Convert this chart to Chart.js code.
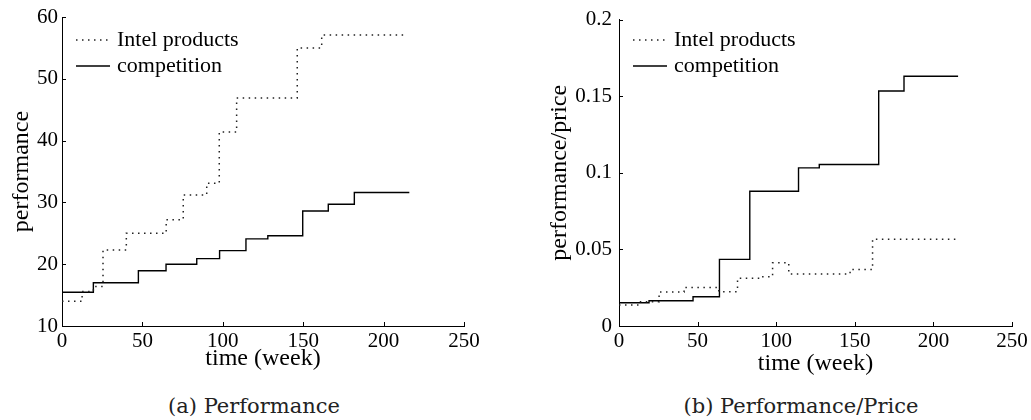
<!DOCTYPE html>
<html><head><meta charset="utf-8">
<script src="https://cdn.jsdelivr.net/npm/chart.js@4.4.1/dist/chart.umd.min.js"></script>
<style>
html,body{margin:0;padding:0;background:#fff;width:1031px;height:420px;overflow:hidden;}
.wrap{position:absolute;top:0;height:380px;}
#w1{left:0;width:515px;} #w2{left:515px;width:516px;}
canvas{display:block;}
.cap{position:absolute;top:396px;font-family:'DejaVu Serif';font-size:21px;line-height:21px;color:#222;white-space:nowrap;transform:translateX(-50%);}
</style></head><body>
<div class="wrap" id="w1"><canvas id="c1" width="515" height="380"></canvas></div>
<div class="wrap" id="w2"><canvas id="c2" width="516" height="380"></canvas></div>
<div class="cap" style="left:254px">(a) Performance</div>
<div class="cap" style="left:801px">(b) Performance/Price</div>
<script>
// ---- data ----
const xTicks = [0, 50, 100, 150, 200, 250];
const xTickLabels = ['0', '50', '100', '150', '200', '250'];
const perfTicks = [10, 20, 30, 40, 50, 60];
const perfTickLabels = ['10', '20', '30', '40', '50', '60'];
const ppTicks = [0, 0.05, 0.1, 0.15, 0.2];
const ppTickLabels = ['0', '0.05', '0.1', '0.15', '0.2'];
const seriesNames = ['Intel products', 'competition'];

const perfIntelWeeks = [0, 12.5, 19.5, 25.5, 40, 64.8, 75.4, 90, 97.8, 108.6, 146.3, 161.5, 214.3];
const perfIntel = [14.0, 15.6, 16.4, 22.3, 25.0, 27.2, 31.2, 33.1, 41.4, 46.9, 55.0, 57.1, 57.1];
const perfCompWeeks = [0, 19.5, 47.5, 64.7, 83.8, 98, 114.4, 128, 149.7, 165.6, 181.8, 216];
const perfComp = [15.45, 17.0, 18.95, 20.0, 20.9, 22.2, 24.1, 24.6, 28.6, 29.7, 31.6, 31.6];

const ppIntelWeeks = [0, 13, 25.5, 41.4, 63.5, 75.4, 90, 97.7, 108, 147, 161.3, 214];
const ppIntel = [0.0137, 0.0158, 0.0222, 0.0252, 0.0224, 0.0311, 0.0322, 0.0413, 0.0339, 0.0368, 0.0567, 0.0567];
const ppCompWeeks = [0, 19.1, 47.1, 63.9, 83.2, 114.2, 127.4, 165.2, 181.3, 215.7];
const ppComp = [0.0152, 0.0165, 0.0191, 0.0435, 0.088, 0.1032, 0.1054, 0.1534, 0.163, 0.163];

// ---- helpers ----
const SERIF = '"Liberation Serif", "Times New Roman", serif';
const pts = (xs, ys) => xs.map((x, i) => ({x: x, y: ys[i]}));

const inwardTicks = {
  id: 'inwardTicks',
  afterDraw(chart) {
    const ctx = chart.ctx, a = chart.chartArea, sx = chart.scales.x, sy = chart.scales.y;
    ctx.save();
    ctx.strokeStyle = '#000'; ctx.lineWidth = 1;
    ctx.beginPath();
    sx.ticks.forEach(t => { const p = Math.round(sx.getPixelForValue(t.value)) + 0.5; ctx.moveTo(p, a.bottom); ctx.lineTo(p, a.bottom - 4); });
    sy.ticks.forEach(t => { const p = Math.round(sy.getPixelForValue(t.value)) + 0.5; ctx.moveTo(a.left, p); ctx.lineTo(a.left + 4, p); });
    ctx.stroke();
    ctx.restore();
  }
};

const insideLegend = {
  id: 'insideLegend',
  afterDraw(chart, args, opts) {
    const ctx = chart.ctx, a = chart.chartArea;
    ctx.save();
    ctx.font = '22px ' + SERIF; ctx.textBaseline = 'middle'; ctx.textAlign = 'left'; ctx.fillStyle = '#000';
    chart.data.datasets.forEach((ds, i) => {
      const yy = opts.rowY[i];
      ctx.strokeStyle = ds.borderColor; ctx.lineWidth = ds.borderWidth; ctx.setLineDash(ds.borderDash || []);
      ctx.beginPath(); ctx.moveTo(a.left + opts.x0, yy); ctx.lineTo(a.left + opts.x1, yy); ctx.stroke();
      ctx.setLineDash([]);
      ctx.fillText(ds.label, a.left + opts.tx, yy);
    });
    ctx.restore();
  }
};

function datasets(iw, iv, cw, cv) {
  return [
    {label: seriesNames[0], data: pts(iw, iv), stepped: true, borderColor: '#222', borderWidth: 1.5, borderDash: [1.5, 4.5], pointRadius: 0, fill: false},
    {label: seriesNames[1], data: pts(cw, cv), stepped: true, borderColor: '#000', borderWidth: 1.4, pointRadius: 0, fill: false}
  ];
}

function makeChart(id, cfg) {
  return new Chart(document.getElementById(id), {
    type: 'line',
    data: {datasets: datasets(cfg.iw, cfg.iv, cfg.cw, cfg.cv)},
    options: {
      responsive: false, animation: false, devicePixelRatio: 1,
      layout: {padding: {left: 0, top: cfg.top, right: cfg.right, bottom: 0}},
      plugins: {legend: {display: false}, tooltip: {enabled: false},
        insideLegend: {rowY: [40, 66], x0: 14, x1: 48, tx: 55}},
      scales: {
        x: {
          type: 'linear', min: 0, max: 250,
          afterBuildTicks: s => { s.ticks = xTicks.map(v => ({value: v})); },
          afterFit: s => { s.height = 54; },
          grid: {display: false, drawTicks: false},
          border: {display: true, color: '#000', width: 1},
          ticks: {font: {family: SERIF, size: 21}, color: '#000', padding: 3, maxRotation: 0, autoSkip: false,
                  callback: v => xTickLabels[xTicks.indexOf(v)]},
          title: {display: true, text: 'time (week)', color: '#000', font: {family: SERIF, size: 24}, padding: {top: 0, bottom: cfg.xTitlePad}}
        },
        y: {
          type: 'linear', min: cfg.yMin, max: cfg.yMax,
          afterBuildTicks: s => { s.ticks = cfg.yTicks.map(v => ({value: v})); },
          afterFit: s => { s.width = cfg.yW; },
          grid: {display: false, drawTicks: false},
          border: {display: true, color: '#000', width: 1},
          ticks: {font: {family: SERIF, size: 21}, color: '#000', padding: cfg.yTickPad, autoSkip: false,
                  callback: v => cfg.yLabels[cfg.yTicks.indexOf(v)]},
          title: {display: true, text: cfg.yTitle, color: '#000', font: {family: SERIF, size: 24}, padding: {top: cfg.yTitlePad, bottom: 0}}
        }
      }
    },
    plugins: [inwardTicks, insideLegend]
  });
}

makeChart('c1', {iw: perfIntelWeeks, iv: perfIntel, cw: perfCompWeeks, cv: perfComp,
  top: 17, right: 51, yW: 62, yMin: 10, yMax: 60, yTicks: perfTicks, yLabels: perfTickLabels,
  yTitle: 'performance', yTitlePad: 7, yTickPad: 4, xTitlePad: 7});
makeChart('c2', {iw: ppIntelWeeks, iv: ppIntel, cw: ppCompWeeks, cv: ppComp,
  top: 19, right: 19, yW: 104, yMin: 0, yMax: 0.2, yTicks: ppTicks, yLabels: ppTickLabels,
  yTitle: 'performance/price', yTitlePad: 30, yTickPad: 7, xTitlePad: 2});
</script>
</body></html>
